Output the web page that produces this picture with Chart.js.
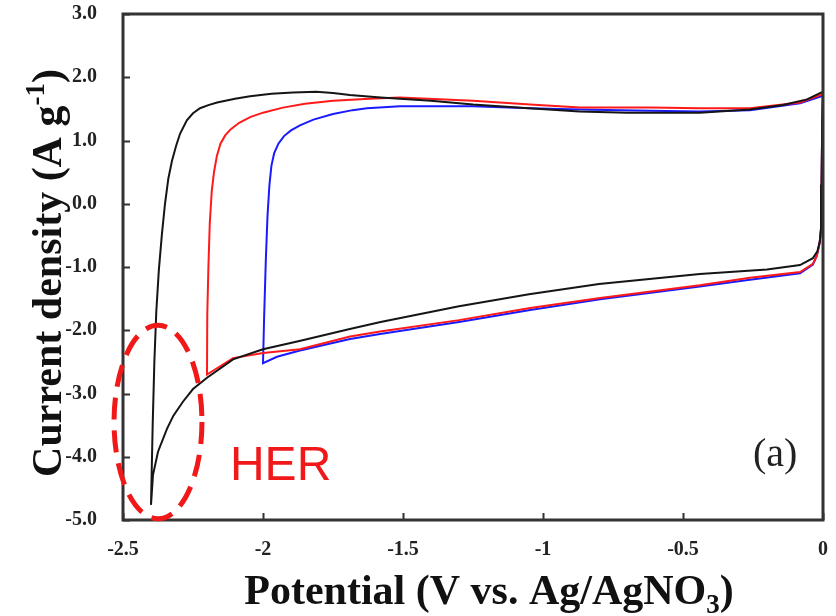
<!DOCTYPE html>
<html>
<head>
<meta charset="utf-8">
<script src="https://cdn.jsdelivr.net/npm/chart.js@4.4.0/dist/chart.umd.min.js"></script>
<style>
body{margin:0;background:#fff;}
canvas{display:block;}
</style>
</head>
<body>
<canvas id="cvChart" width="836" height="616"></canvas>
<script>
// tick values and labels
const xTicks = [-2.5, -2, -1.5, -1, -0.5, 0];
const xTickLabels = ["-2.5", "-2", "-1.5", "-1", "-0.5", "0"];
const yTicks = [-5, -4, -3, -2, -1, 0, 1, 2, 3];
const yTickLabels = ["-5.0", "-4.0", "-3.0", "-2.0", "-1.0", "0.0", "1.0", "2.0", "3.0"];

// CV loop down to -2.4 V (black)
const blackV = [0, -0.003, -0.005, -0.007, -0.011, -0.02, -0.036, -0.082, -0.2, -0.44, -0.8, -1.05, -1.3, -1.58, -1.69, -1.87, -2.0, -2.107, -2.2, -2.25, -2.286, -2.32, -2.343, -2.375, -2.393, -2.4,
  -2.394, -2.388, -2.381, -2.372, -2.361, -2.35, -2.338, -2.325, -2.31, -2.296, -2.272, -2.25, -2.225, -2.195, -2.164, -2.1, -2.046, -1.97, -1.893, -1.81, -1.75, -1.69, -1.58, -1.4, -1.25, -1.05, -0.87, -0.7, -0.51, -0.44, -0.261, -0.143, -0.057, -0.011, 0];
const blackJ = [1.76, 1.2, 0.3, -0.38, -0.59, -0.75, -0.86, -0.97, -1.04, -1.11, -1.27, -1.43, -1.62, -1.87, -1.98, -2.17, -2.3, -2.46, -2.75, -2.93, -3.13, -3.35, -3.56, -3.92, -4.29, -4.76,
  -3.5, -2.5, -1.7, -1.05, -0.48, 0.0, 0.4, 0.68, 0.92, 1.11, 1.32, 1.43, 1.51, 1.56, 1.60, 1.66, 1.70, 1.74, 1.76, 1.77, 1.75, 1.72, 1.68, 1.63, 1.57, 1.51, 1.46, 1.44, 1.44, 1.44, 1.49, 1.56, 1.65, 1.75, 1.77];

// CV loop down to -2.2 V (red)
const redV = [0, -0.003, -0.005, -0.007, -0.012, -0.022, -0.036, -0.082, -0.261, -0.44, -0.796, -1.046, -1.3, -1.582, -1.689, -1.868, -2.0, -2.107, -2.2,
  -2.199, -2.195, -2.19, -2.183, -2.175, -2.165, -2.152, -2.135, -2.115, -2.085, -2.046, -2.0, -1.929, -1.85, -1.75, -1.62, -1.511, -1.25, -1.046, -0.868, -0.618, -0.44, -0.261, -0.082, -0.004, 0];
const redJ = [1.75, 1.2, 0.3, -0.4, -0.62, -0.82, -0.95, -1.08, -1.17, -1.29, -1.49, -1.65, -1.84, -2.02, -2.10, -2.30, -2.36, -2.44, -2.70,
  -1.75, -1.0, -0.3, 0.2, 0.5, 0.75, 0.95, 1.08, 1.18, 1.28, 1.37, 1.44, 1.52, 1.58, 1.63, 1.66, 1.68, 1.63, 1.57, 1.52, 1.52, 1.51, 1.51, 1.60, 1.73, 1.75];

// CV loop down to -2.0 V (blue)
const blueV = [0, -0.003, -0.005, -0.007, -0.012, -0.022, -0.036, -0.082, -0.261, -0.44, -0.796, -1.046, -1.3, -1.582, -1.689, -1.868, -1.95, -2.0,
  -1.996, -1.99, -1.984, -1.977, -1.97, -1.96, -1.945, -1.925, -1.9, -1.868, -1.82, -1.75, -1.68, -1.629, -1.511, -1.25, -1.046, -0.868, -0.618, -0.44, -0.261, -0.082, -0.004, 0];
const blueJ = [1.72, 1.2, 0.3, -0.4, -0.62, -0.82, -0.96, -1.10, -1.20, -1.31, -1.51, -1.68, -1.87, -2.06, -2.14, -2.32, -2.42, -2.52,
  -1.8, -0.9, -0.2, 0.3, 0.6, 0.8, 0.95, 1.07, 1.16, 1.24, 1.33, 1.42, 1.48, 1.51, 1.54, 1.54, 1.51, 1.49, 1.47, 1.46, 1.48, 1.59, 1.70, 1.72];

function pts(v, j){
  return v.map((x, i) => ({x: x, y: j[i]}));
}

const serif = "'Liberation Serif', 'Times New Roman', serif";

// text made of parts, some raised or lowered
function drawRich(ctx, parts, x, y){
  let total = 0;
  parts.forEach(p => {
    ctx.font = "bold " + p.size + "px " + serif;
    p.w = ctx.measureText(p.t).width;
    total += p.w;
  });
  let cx = x - total / 2;
  parts.forEach(p => {
    ctx.font = "bold " + p.size + "px " + serif;
    ctx.fillText(p.t, cx, y + p.dy);
    cx += p.w;
  });
}

const framePlugin = {
  id: "framePlugin",
  afterDatasetsDraw(chart){
    const ctx = chart.ctx;
    const a = chart.chartArea;
    const xs = chart.scales.x;
    const ys = chart.scales.y;
    ctx.save();
    ctx.strokeStyle = "#333";
    ctx.lineWidth = 3;
    ctx.strokeRect(a.left, a.top, a.right - a.left, a.bottom - a.top);
    ctx.lineWidth = 2;
    ctx.beginPath();
    yTicks.forEach(v => {
      const py = Math.round(ys.getPixelForValue(v)) + 0.5;
      ctx.moveTo(a.left, py);
      ctx.lineTo(a.left + 7, py);
    });
    xTicks.forEach(v => {
      const px = Math.round(xs.getPixelForValue(v)) + 0.5;
      ctx.moveTo(px, a.bottom);
      ctx.lineTo(px, a.bottom - 7);
    });
    ctx.stroke();

    // HER region mark
    const cx = xs.getPixelForValue(-2.375);
    const cy = ys.getPixelForValue(-3.45);
    const rx = xs.getPixelForValue(-2.375 + 0.157) - cx;
    const ry = ys.getPixelForValue(-3.45 - 1.53) - cy;
    ctx.strokeStyle = "#f01818";
    ctx.lineWidth = 5;
    ctx.setLineDash([22, 11]);
    ctx.beginPath();
    ctx.ellipse(cx, cy, rx, ry, 0, 0, Math.PI * 2);
    ctx.stroke();
    ctx.setLineDash([]);

    ctx.fillStyle = "#f01818";
    ctx.font = "48px 'Liberation Sans', Arial, sans-serif";
    ctx.textBaseline = "alphabetic";
    ctx.textAlign = "left";
    ctx.fillText("HER", xs.getPixelForValue(-2.118), ys.getPixelForValue(-4.36));

    ctx.fillStyle = "#222";
    ctx.font = "40px " + serif;
    ctx.fillText("(a)", xs.getPixelForValue(-0.25), ys.getPixelForValue(-4.14));
    ctx.restore();
  },
  afterDraw(chart){
    const ctx = chart.ctx;
    ctx.save();
    ctx.fillStyle = "#111";
    ctx.textBaseline = "alphabetic";
    ctx.textAlign = "left";
    drawRich(ctx, [
      {t: "Potential (V vs. Ag/AgNO", size: 42, dy: 0},
      {t: "3", size: 27, dy: 9},
      {t: ")", size: 42, dy: 0}
    ], 489, 604);
    ctx.translate(61, 273);
    ctx.rotate(-Math.PI / 2);
    drawRich(ctx, [
      {t: "Current density (A g", size: 42, dy: 0},
      {t: "-1", size: 27, dy: -17},
      {t: ")", size: 42, dy: 0}
    ], 0, 0);
    ctx.restore();
  }
};

const lineStyle = {showLine: true, pointRadius: 0, borderWidth: 2, tension: 0, fill: false};

new Chart(document.getElementById("cvChart"), {
  type: "scatter",
  data: {
    datasets: [
      Object.assign({label: "-2.4 V", data: pts(blackV, blackJ), borderColor: "#151515"}, lineStyle),
      Object.assign({label: "-2.2 V", data: pts(redV, redJ), borderColor: "#ff1a1a"}, lineStyle),
      Object.assign({label: "-2.0 V", data: pts(blueV, blueJ), borderColor: "#1a1aff"}, lineStyle)
    ]
  },
  options: {
    responsive: false,
    animation: false,
    layout: {padding: {top: 14, right: 13, left: 0, bottom: 0}},
    plugins: {legend: {display: false}, tooltip: {enabled: false}},
    scales: {
      x: {
        type: "linear", min: -2.5, max: 0,
        grid: {display: false, drawTicks: false},
        border: {display: false},
        afterBuildTicks: s => { s.ticks = xTicks.map(v => ({value: v})); },
        afterFit: s => { s.height = 96; s.paddingLeft = 0; s.paddingRight = 0; },
        ticks: {
          padding: 18, color: "#222", autoSkip: false, maxRotation: 0,
          font: {family: serif, size: 20, weight: "bold"},
          callback: (v, i) => xTickLabels[i]
        }
      },
      y: {
        type: "linear", min: -5, max: 3,
        grid: {display: false, drawTicks: false},
        border: {display: false},
        afterBuildTicks: s => { s.ticks = yTicks.map(v => ({value: v})); },
        afterFit: s => { s.width = 123; s.paddingTop = 0; s.paddingBottom = 0; },
        ticks: {
          padding: 26, color: "#222", autoSkip: false,
          font: {family: serif, size: 20, weight: "bold"},
          callback: (v, i) => yTickLabels[i]
        }
      }
    }
  },
  plugins: [framePlugin]
});
</script>
</body>
</html>
